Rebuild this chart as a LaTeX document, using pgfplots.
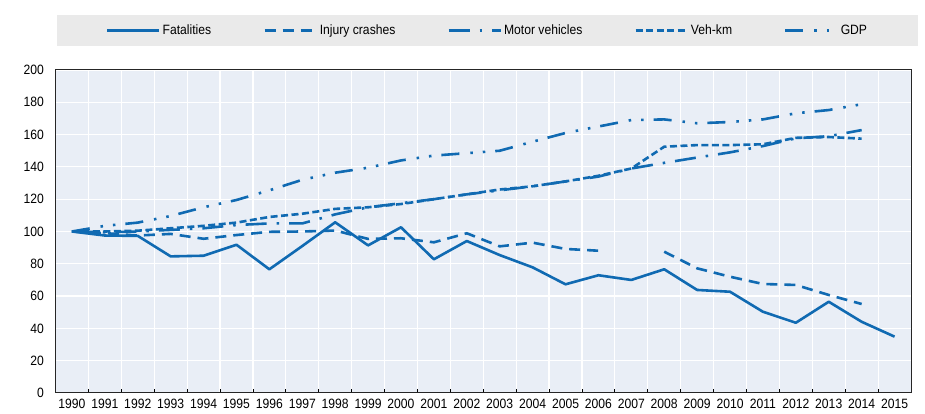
\documentclass[border=0pt]{standalone}
\usepackage{fontspec}
\setmainfont{Liberation Sans}[FakeStretch=0.9]
\usepackage{pgfplots}
\usepackage{pgfplotstable}
\pgfplotsset{compat=1.18}
\definecolor{oblue}{RGB}{16,106,178}
\definecolor{plotbg}{RGB}{233,238,246}
\definecolor{legbg}{RGB}{234,234,234}
\pgfplotstableread{
x fat inj mot veh gdp
0 100 100 100 100 100
1 97.5 99 99.5 100 103.5
2 97.3 97.5 100 100.5 105.5
3 84.6 98.5 101 102 109.6
4 85 95.5 102 103.5 115
5 91.8 97.8 104 105.5 119.5
6 76.6 99.8 105 109 125.5
7 91 100 105 111 132
8 105.7 100.6 110.6 114 136.4
9 91.4 95.4 115 115 139.5
10 102.6 95.8 117.5 117 144
11 82.8 93.3 120 120 147
12 94.1 98.9 123 123 148.5
13 85.4 90.8 125.5 126 150
14 77.8 93.1 128 128 155.6
15 67.3 89.2 131 131 161
16 72.9 88.1 134 134.5 165
17 70 nan 139 139 169
18 76.6 87.5 142.5 152.5 169.4
19 63.8 77.2 145.8 153.5 167
20 62.7 72 149 153.5 167.8
21 50.3 67.5 152.9 154 169.4
22 43.5 66.9 157.7 158 173.2
23 56.5 60.7 159 158.5 175.2
24 44.1 55.1 162.8 157.5 178.8
25 34.9 nan nan nan nan
}\data
\begin{document}
\begin{tikzpicture}[x=1pt,y=1pt]
\useasboundingbox (0,0) rectangle (925,414);
\fill[legbg] (57,368) rectangle (918,399);
\begin{axis}[
  at={(55.5pt,21pt)}, anchor=south west,
  scale only axis, width=855.5pt, height=323pt,
  xmin=-0.5, xmax=25.5, ymin=0, ymax=200,
  xtick={0,...,25},
  xticklabels={1990,1991,1992,1993,1994,1995,1996,1997,1998,1999,2000,2001,2002,2003,2004,2005,2006,2007,2008,2009,2010,2011,2012,2013,2014,2015},
  minor xtick={0.5,1.5,...,24.5},
  ytick={0,20,...,200},
  tick pos=left,
  major x tick style={draw=none},
  ytick style={draw=none},
  minor x tick style={black, line width=0.8pt},
  minor tick length=4pt,
  xminorgrids, ymajorgrids,
  minor x grid style={white, line width=1.2pt},
  major y grid style={white, line width=1.2pt},
  axis background/.style={fill=plotbg},
  axis line style={black!85, line width=1pt},
  tick label style={font=\fontsize{13.5}{16}\selectfont},
  /pgf/number format/assume math mode=true,
  yticklabel style={xshift=-8pt},
  xticklabel style={yshift=-3pt},
  unbounded coords=jump,
  legend columns=5,
  legend style={at={(0.505,1.1223)}, anchor=center, draw=none, fill=none,
    font=\fontsize{13.5}{16}\selectfont,
    /tikz/every even column/.append style={column sep=50pt}},
  legend image code/.code={\draw[#1] (0pt,0pt) -- (52pt,0pt);},
  every axis plot/.append style={oblue, line width=2.6pt},
]
\addplot[line join=round] table[x=x,y=fat]{\data};
\addlegendentry{Fatalities}
\addplot[dash pattern=on 11pt off 7pt] table[x=x,y=inj]{\data};
\addlegendentry{Injury crashes}
\addplot[dash pattern=on 21pt off 10pt on 2.5pt off 10pt] table[x=x,y=mot]{\data};
\addlegendentry{Motor vehicles}
\addplot[dash pattern=on 7pt off 3.5pt] table[x=x,y=veh]{\data};
\addlegendentry{Veh-km}
\addplot[dash pattern=on 18pt off 11pt on 2.5pt off 10pt on 2.5pt off 10pt] table[x=x,y=gdp]{\data};
\addlegendentry{GDP}
\end{axis}
\end{tikzpicture}
\end{document}
